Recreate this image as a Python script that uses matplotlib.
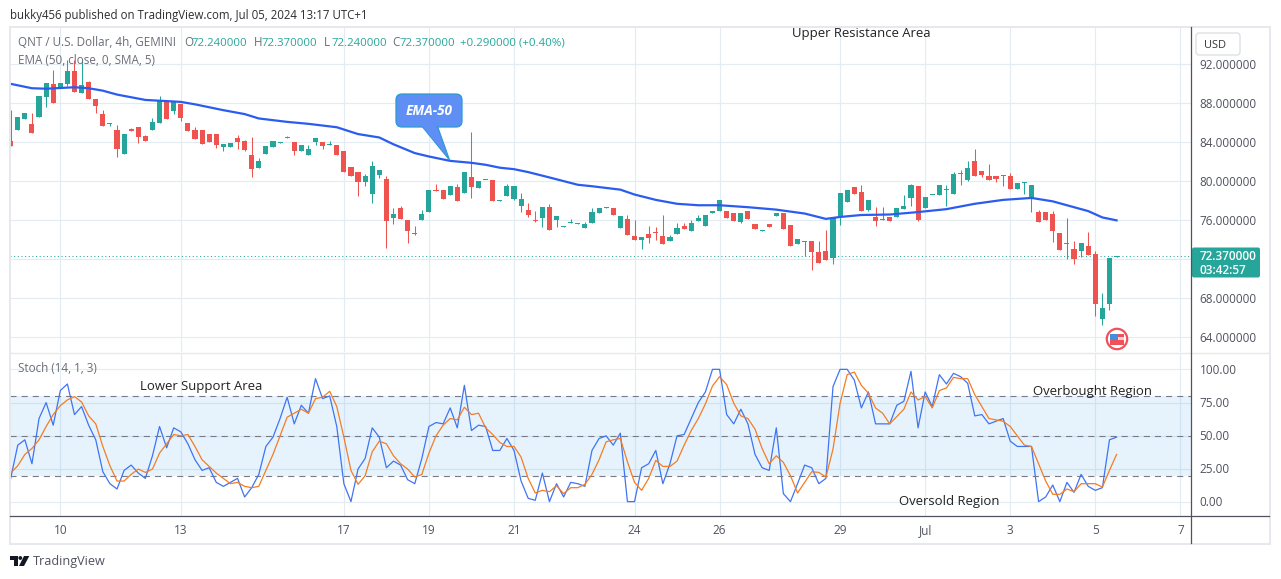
import matplotlib
matplotlib.use("Agg")
import matplotlib.pyplot as plt
from matplotlib.patches import Rectangle, FancyBboxPatch, Polygon, Circle

plt.rcParams['font.family'] = ['Open Sans', 'DejaVu Sans']

opens = [84.13,85.27,86.4,85.9,86.6,88.65,90,89.67,90,91.3,89.05,90.2,88.45,86.9,85.9,85.27,82.8,85.4,85.6,84.65,
85.25,86,88.25,87.2,87.9,86,85.25,85.25,84.85,84.85,83.5,83.5,84.45,84.15,82.7,81.35,82.8,83.5,83.93,84.6,
84.05,83.1,82.7,84,84,83.7,83.7,83.1,81.5,80.95,79.9,78.7,80.65,80.25,76.25,77.25,76.05,74.7,76.05,76.85,
79.1,79.1,78.6,79.4,78.8,80.45,79.3,80.1,80.15,78,78.5,78.2,77.45,77.05,76.05,76.25,77.35,76.05,75.35,75.75,
75.65,75.2,75.7,76.75,77.3,77.25,75.2,76.15,74.4,74,74.6,74.8,74.4,73.9,74.6,75.4,74.9,75.9,75.4,76.8,
76.95,76.95,76.75,75.85,76.95,75.6,74.9,75.6,76.45,76.75,75.5,73.6,73.75,73.9,72.75,72.85,72.1,76.45,77.9,79.4,
78.9,77.05,76.35,76,76.35,76.35,77.15,78.3,79.5,77.25,78.55,78.6,79.1,78.7,80.85,80.15,82.1,81.05,80.55,80.55,
80.55,80.55,79.2,79.8,78.2,76.85,76.85,76.65,74.7,73.55,73.05,72.85,73.35,72.55,65.9,67.45,72.24]
closes = [83.65,86.6,87,84.95,88.75,90.1,88,90.1,91.3,89.2,89.9,88.45,87.7,85.7,85.95,83.3,84.85,85.15,84.55,84.15,
86.1,88.25,86.4,88.15,86.5,85.15,84.35,83.8,84,83.7,83.8,83.95,84,83.2,81.25,82.1,83.6,84.15,84,84.45,
83.1,83.75,83.3,84.45,83.6,83.85,82.7,80.95,80.55,79.9,80.55,81.55,81.15,75.95,76.65,76.15,74.9,74.6,76.65,79.1,
79,78.2,79.5,78,81,79.45,80.05,80.15,78,78.05,79.5,79.5,78.2,76.55,75.95,77.35,75,76.45,75.4,75.8,
75.7,75.6,76.85,77.25,77.35,76.55,76.45,74.5,74,74.3,74.2,74.7,73.6,74.3,75.2,75.1,75.7,76.2,76.5,76.85,
78.1,76.25,75.95,76.75,76.15,75.1,75,75.3,76.75,75.1,73.35,74.1,73.9,72.75,71.6,71.95,76.25,78.8,79.1,78.7,
77,78.1,75.95,76.05,75.95,77.25,77.45,79.6,76.05,78.4,78.6,79.6,79.2,80.75,80.75,81.4,80.55,80.65,80.15,80.25,
80.65,79.2,79.85,79.95,79.6,75.85,76.05,74.9,72.95,73.65,72.05,73.65,72.45,67.45,67,72.1,72.37]
highs = [87.3,86.6,87,87,88.75,90.1,91.4,90.1,92.4,92.4,92.4,90.3,88.45,87.3,85.95,85.8,84.85,85.5,85.6,84.75,
86.5,88.75,88.25,88.15,87.9,86,85.55,85.25,84.85,84.85,83.8,83.95,84.75,84.25,84.55,82.4,83.6,84.15,84,84.7,
84.05,83.75,83.7,84.45,84,84.15,83.7,83.1,81.5,80.95,80.75,82.1,81.15,80.55,77.25,77.45,76.05,75.4,77.05,79.1,
79.7,79.1,79.5,79.7,81,85.05,80.05,80.15,80.15,78.05,79.7,79.5,78.8,77.8,76.95,77.35,77.65,76.45,75.4,76.1,
75.7,75.8,77.25,77.25,77.35,77.25,76.45,76.55,76.05,74.3,75.4,75.3,76.55,74.5,75.7,75.7,76.05,76.5,76.5,76.85,
78.1,76.95,76.75,76.75,76.95,75.6,75,75.6,76.75,76.75,75.5,74.1,73.9,73.9,73.9,75,76.25,78.8,79.1,79.4,
79.6,78.1,77.4,77.4,76.35,77.25,78.6,79.7,79.5,78.4,78.6,79.6,79.6,81,81.15,82.1,83.3,81.05,81.8,80.55,
80.65,80.85,79.85,79.95,79.6,77.05,76.85,76.95,74.7,76.25,73.9,73.65,74.8,72.85,68.55,72.1,72.37]
lows = [83.65,85.27,86.4,84.95,86.6,87.6,88,89.67,89.8,89.2,89.05,88.45,87,85.7,85.7,82.5,82.8,85.15,83.9,84.15,
85.25,86,86.4,86.9,86.2,85.15,84.35,83.8,84,83.4,83.1,83.5,83.3,83.1,80.45,81.35,82.8,83.5,83.93,84.4,
82.7,83.1,82.7,83.7,83.3,83.7,82.7,80.95,80.55,78.5,79.5,77.8,80.35,73.15,75.6,76.15,73.7,74.5,76.05,76.85,
79,78.2,78.6,78,78.8,78.3,79.3,80.1,78,78,78.5,78.1,76.85,76.35,75.8,75.3,75,75.3,75.35,75.7,
75.65,75.2,75.7,76.75,77.3,76.55,75.2,74.5,74,73.1,73.7,74,73.6,73.9,74.6,75.1,74.9,75.9,75.4,76.8,
76.95,76.25,75.95,75.75,76.15,75.1,74.9,75.3,76.45,75.1,73.35,73.6,72.35,70.9,71.6,71.95,71.5,75.5,77.9,78.7,
77,76.95,75.4,76,75.95,76.35,77.15,77.45,75.95,77.25,78.55,78.6,77.45,78.7,79.6,80.05,80.55,80.45,80.15,79.95,
79.55,79.2,79.2,78.7,76.85,75.85,76.05,73.8,72.95,72.05,71.5,72.25,72.45,66.2,65.25,66.85,72.24]

ema_bars = [0,3,5,9,11,13,15,19,24,26,30,33,35,39,42,46,49,52,54,57,59,62,65,67,69,71,73,76,80,82,86,88,91,94,97,100,104,108,112,115,117,120,124,128,132,136,140,144,147,150,152,154,156]
ema_vals = [90,89.55,89.5,89.65,89.55,89.3,88.9,88.35,88.15,87.9,87.3,86.9,86.45,86.1,85.9,85.55,84.85,84.5,83.8,82.9,82.55,82.1,81.9,81.7,81.4,81.25,80.95,80.4,79.65,79.5,79.15,78.65,78.1,77.7,77.55,77.55,77.35,77.1,76.7,76.15,76.35,76.55,76.6,76.85,77.15,77.7,78.1,78.3,77.95,77.35,76.95,76.3,76]

stoch_k = [18,43,47,29,63,75,58,84,89,66,72,58,47,23,14,10,24,28,22,18,35,57,41,56,53,44,32,24,26,15,12,15,18,4,11,21,42,49,63,79,59,73,67,93,78,80,57,14,0.5,25,33,56,49,26,31,28,17,14,33,57,
60,59,71,56,88,54,58,57,39,39,48,39,16,3,1.5,22,0.5,14,4,15,14,12,39,48,50,43,52,0.5,0.5,26,29,39,14,29,50,51,63,75,83,100,100,66,59,70,59,36,26,24,56,6.5,0.5,14,28,26,14,18,87,100,100,
92,71,83,59,59,59,73,76,98.5,56,83,72,96,89,97,94.5,89.5,65,66,59,61,63,46,42,42,42,0.5,4,13,0.5,15,7.5,21,12,9,11,47,49]
stoch_d = [22,27.5,36,40.5,47,57,66,72.7,77,79.5,75.5,65,59,42,27.5,16,16,21,25,22.5,25,37,44,51,50,51,42,32,27,22,18,14,15,12,11,12,24,36,50,64,67,70,67,78,79,83.5,72,49,24,13.5,20,38,46,44,35,29,25,19,21,37,
50,58,63,62,71.5,66,67,56,51,45,42,42,34,18,7,9,8,12.5,6.5,11,11,13.5,21,32,45.5,47,48,30.5,15,9,18,31.5,27,27,31,43,54,63,74,87.5,94.5,88.5,74.5,65,63,55,40.5,29,35,30,20,7,15,23,22.5,19,40,74.5,96,
98,88,82,71,67,59,64.5,70,83,77,79.5,71,84,86,94,93,93,81,72,63,62,61,57,50,43,42,29,16,6,6,10,8,14,14,14,11.5,24,36]

x_tick_bars = [7,24,47,59,71,88,100,117,129,141,153,165]
x_tick_labels = ['10','13','17','19','21','24','26','29','Jul','3','5','7']
price_ticks = [92,88,84,80,76,68,64]
stoch_ticks = [100,75,50,25,0]
last_price = 72.37

W, H = 1281, 579
UP, DOWN = '#26A69A', '#EF5350'
GRID = '#E4ECF3'
DARK = '#50535E'
BLUE = '#2A5CF0'

fig = plt.figure(figsize=(W/100, H/100), dpi=100, facecolor='white')

def pane(x0, y0, x1, y1):
    return fig.add_axes([x0/W, 1-y1/H, (x1-x0)/W, (y1-y0)/H])

BAR_PX, BAR_X0 = 7.089, 10.68
xlim = ((10-BAR_X0)/BAR_PX, (1191-BAR_X0)/BAR_PX)
ax = pane(10, 27, 1191, 352)
ax.set_xlim(*xlim); ax.set_ylim(62.5, 95.83)
st = pane(10, 353, 1191, 516)
st.set_xlim(*xlim); st.set_ylim(-10.3, 112.3)

for a in (ax, st):
    a.set_xticks(x_tick_bars)
    a.grid(True, color=GRID, lw=0.85, zorder=0)
    a.set_axisbelow(True)
    a.tick_params(length=0, labelleft=False, labelbottom=False)
    for s in a.spines.values():
        s.set_visible(False)

ax.set_yticks(price_ticks + [72])

# candles
for i, (o, h, l, c) in enumerate(zip(opens, highs, lows, closes)):
    col = UP if c >= o else DOWN
    ax.vlines(i, l, h, color=col, lw=0.75, zorder=3)
    ax.bar(i, max(abs(c-o), 0.11), bottom=min(o, c), width=0.72, color=col, lw=0, zorder=4)

ax.axhline(last_price, color=UP, lw=0.75, ls=(0, (1, 2.5)), zorder=2)
ax.plot(ema_bars, ema_vals, color=BLUE, lw=1.6, zorder=5)

# stochastic
st.set_yticks(stoch_ticks)
st.axhspan(20, 80, color='#2196F3', alpha=0.11, lw=0, zorder=1)
for lev in (80, 50, 20):
    st.axhline(lev, color='#787B86', lw=0.8, ls=(0, (5.5, 4.5)), zorder=2)
st.plot(range(len(stoch_k)), stoch_k, color='#3F74F2', lw=0.9, zorder=3)
st.plot(range(len(stoch_d)), stoch_d, color='#F57C23', lw=0.9, zorder=4)

# overlay in pixel coordinates
ov = fig.add_axes([0, 0, 1, 1], facecolor='none')
ov.set_xlim(0, W); ov.set_ylim(H, 0); ov.axis('off')

# frame
BORD = '#E6E8EE'
ov.add_patch(Rectangle((9.5, 26.5), 1260, 517, fc='none', ec=BORD, lw=1.4))
ov.plot([10, 1269], [352.5, 352.5], color=BORD, lw=1.0)
ov.plot([10, 1269], [516, 516], color=DARK, lw=0.9)
ov.plot([1191, 1191], [27, 543], color=DARK, lw=0.9)

def T(x, y, s, size, color=DARK, ha='left', **kw):
    ov.text(x, y, s, fontsize=size*0.72, color=color, ha=ha, va='center', **kw)

T(10, 15, 'bukky456 published on TradingView.com, Jul 05, 2024 13:17 UTC+1', 11.55, '#2E2E2E')
T(18, 43, 'QNT / U.S. Dollar, 4h, GEMINI', 11.6, '#6A6D78')
for x, lab, val in ((184, 'O', '72.240000'), (254, 'H', '72.370000'), (324, 'L', '72.240000'), (392, 'C', '72.370000')):
    T(x, 43, lab, 11.6, '#6A6D78')
    T(x+7.5, 43, val, 11.4, UP)
T(460, 43, '+0.290000 (+0.40%)', 11.5, UP)
T(18, 60, 'EMA (50, close, 0, SMA, 5)', 11.6, '#6A6D78')
T(18, 368.5, 'Stoch (14, 1, 3)', 11.6, '#6A6D78')

T(792, 33, 'Upper Resistance Area', 13.1, '#222222')
T(140, 386.5, 'Lower Support Area', 13.1, '#222222')
T(1033, 392, 'Overbought Region', 13.1, '#222222')
T(899, 502, 'Oversold Region', 13.1, '#222222')

# price axis labels
for p in price_ticks:
    y = 65.7 + (92-p)*9.75
    T(1199.5, y, f'{p:.6f}', 11.8)
for s, y in ((100, 370.5), (75, 403.5), (50, 436.5), (25, 469.5), (0, 502.5)):
    T(1199.5, y, f'{s:.2f}', 11.8)
for b, lab in zip(x_tick_bars, x_tick_labels):
    T(BAR_X0+BAR_PX*b, 530.5, lab, 11.8, ha='center')

# last price tag
ov.add_patch(FancyBboxPatch((1192, 247.5), 68, 30, boxstyle='round,pad=0,rounding_size=2', fc=UP, ec='none'))
T(1199.5, 256.5, '72.370000', 11.8, 'white', fontweight='semibold')
T(1199.5, 270.5, '03:42:57', 11.8, 'white', fontweight='semibold')

# USD box
ov.add_patch(FancyBboxPatch((1196, 33), 44, 22, boxstyle='round,pad=0,rounding_size=3', fc='white', ec='#DADCE2', lw=0.9))
T(1204, 45, 'USD', 11, '#333333')

# EMA-50 callout
CALL = '#5F8EF5'
ov.add_patch(Polygon([(421, 125), (437, 125), (449.5, 160)], closed=True, fc=CALL, ec='#2B9BD0', lw=0.9, zorder=6))
ov.add_patch(FancyBboxPatch((396, 94), 66, 33, boxstyle='round,pad=0,rounding_size=6', fc=CALL, ec='#2B9BD0', lw=0.9, zorder=6))
ov.add_patch(Polygon([(422, 126), (436, 126), (447, 156)], closed=True, fc=CALL, ec='none', zorder=7))
T(429, 111, 'EMA-50', 13.5, 'white', ha='center', fontstyle='italic', fontweight='bold', zorder=8)

# flag icon
ov.add_patch(Circle((1117, 339), 10.2, fc='white', ec='#F0505A', lw=1.6))
ov.add_patch(Rectangle((1110, 334), 14, 11, fc='#F0505A', ec='none'))
ov.add_patch(Rectangle((1110, 337), 14, 2.5, fc='#F8D0D0', ec='none'))
ov.add_patch(Rectangle((1110, 334), 8, 6, fc='#3F8FDD', ec='none'))

# TradingView logo
LOGO = '#131722'
ov.add_patch(Polygon([(10, 556), (18, 556), (18, 566), (14, 566), (14, 560), (10, 560)], closed=True, fc=LOGO, ec='none'))
ov.add_patch(Circle((20.3, 558), 1.9, fc=LOGO, ec='none'))
ov.add_patch(Polygon([(24, 556), (29.3, 556), (24, 566), (19, 566)], closed=True, fc=LOGO, ec='none'))
T(33, 561.5, 'TradingView', 12.6)

fig.savefig('out.png', dpi=100, facecolor='white')
